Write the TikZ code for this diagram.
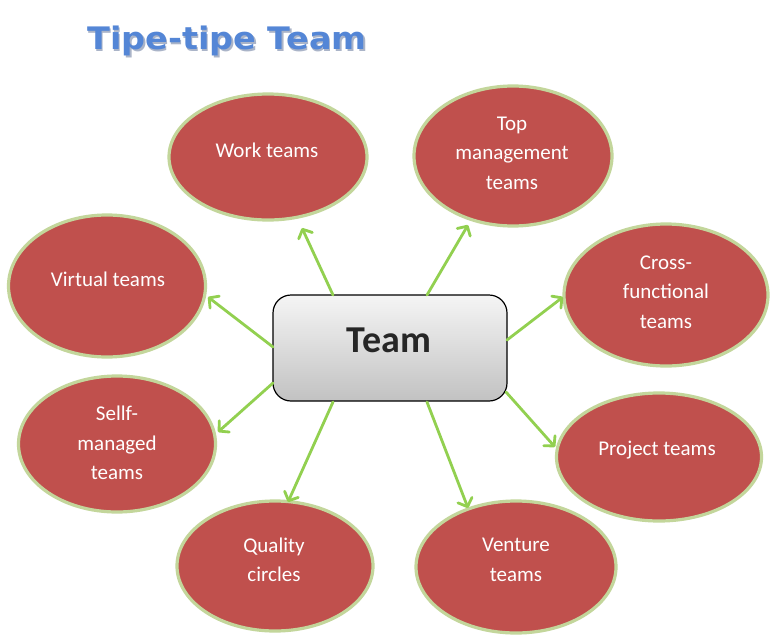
\documentclass[tikz,border=0pt]{standalone}
\usepackage{fontspec}
\setmainfont{Carlito}
\newfontfamily\titlefont{DejaVu Sans}[FakeStretch=1.08]
\usetikzlibrary{arrows.meta,shapes.geometric}
\definecolor{ellfill}{HTML}{C0504D}
\definecolor{ellline}{RGB}{195,214,155}
\definecolor{arrgreen}{HTML}{92D050}
\definecolor{titleblue}{RGB}{84,134,214}
\definecolor{titleshade}{RGB}{170,180,200}
\begin{document}
\begin{tikzpicture}[x=1pt,y=-1pt,
  teamell/.style={ellipse, draw=ellline, line width=3.2pt, fill=ellfill, inner sep=0pt, outer sep=0pt},
  lbl/.style={text=white, font=\fontsize{21}{29.5}\selectfont, align=center, inner sep=0pt},
  arr/.style={draw=arrgreen, line width=2.8pt, line cap=round,
    -{Straight Barb[length=7pt,width=15pt,round]}},
  teambox/.style={draw=black, line width=1.2pt, rounded corners=18pt,
    minimum width=234pt, minimum height=106pt, inner sep=0pt,
    top color=gray!8, bottom color=gray!48}]
\useasboundingbox (0,0) rectangle (776,637);
\fill[white] (0,0) rectangle (776,637);

% title
\node[anchor=base west, inner sep=0pt, text=titleshade, font=\titlefont\bfseries\fontsize{31}{34}\selectfont] (titleshadow) at (88.5,51) {Tipe-tipe Team};
\node[anchor=base west, inner sep=0pt, text=titleblue, font=\titlefont\bfseries\fontsize{31}{34}\selectfont] (title) at (87,49.5) {Tipe-tipe Team};

% ellipses
\node[teamell, minimum width=198pt, minimum height=126pt] (work) at (268,157) {};
\node[teamell, minimum width=198pt, minimum height=140pt] (topm) at (513,156) {};
\node[teamell, minimum width=197pt, minimum height=142pt] (virt) at (107,286) {};
\node[teamell, minimum width=204pt, minimum height=142pt] (cross) at (666,295) {};
\node[teamell, minimum width=197pt, minimum height=136pt] (self) at (117,444) {};
\node[teamell, minimum width=205pt, minimum height=128pt] (proj) at (659,457) {};
\node[teamell, minimum width=196pt, minimum height=130pt] (qual) at (275,566) {};
\node[teamell, minimum width=200pt, minimum height=132pt] (vent) at (516,567) {};

% labels
\node[lbl] (worklbl) at (267,150) {Work teams};
\node[lbl] (topmlbl) at (512,153) {Top\\management\\teams};
\node[lbl] (virtlbl) at (108,279) {Virtual teams};
\node[lbl] (crosslbl) at (666,292) {Cross-\\functional\\teams};
\node[lbl] (selflbl) at (117,443) {Sellf-\\managed\\teams};
\node[lbl] (projlbl) at (657,450) {Project teams};
\node[lbl] (quallbl) at (274,560) {Quality\\circles};
\node[lbl] (ventlbl) at (516,560) {Venture\\teams};

% central box
\node[teambox] (team) at (390,348) {};
\node[anchor=base, inner sep=0pt, text=black!85, font=\bfseries\fontsize{38}{40}\selectfont] (teamlbl) at (389,352) {Team};

% arrow end points
\coordinate (s1) at (333,295); \coordinate (t1) at (302,228);
\coordinate (s2) at (427,295); \coordinate (t2) at (468,225);
\coordinate (s3) at (273,347); \coordinate (t3) at (208,297);
\coordinate (s4) at (507,340); \coordinate (t4) at (563,297);
\coordinate (s5) at (273,383); \coordinate (t5) at (218,432);
\coordinate (s6) at (506,392); \coordinate (t6) at (555,447);
\coordinate (s7) at (333,402); \coordinate (t7) at (288,502);
\coordinate (s8) at (427,402); \coordinate (t8) at (468,508);

\draw[arr] (s1) -- (t1);
\draw[arr] (s2) -- (t2);
\draw[arr] (s3) -- (t3);
\draw[arr] (s4) -- (t4);
\draw[arr] (s5) -- (t5);
\draw[arr] (s6) -- (t6);
\draw[arr] (s7) -- (t7);
\draw[arr] (s8) -- (t8);
\end{tikzpicture}
\end{document}
